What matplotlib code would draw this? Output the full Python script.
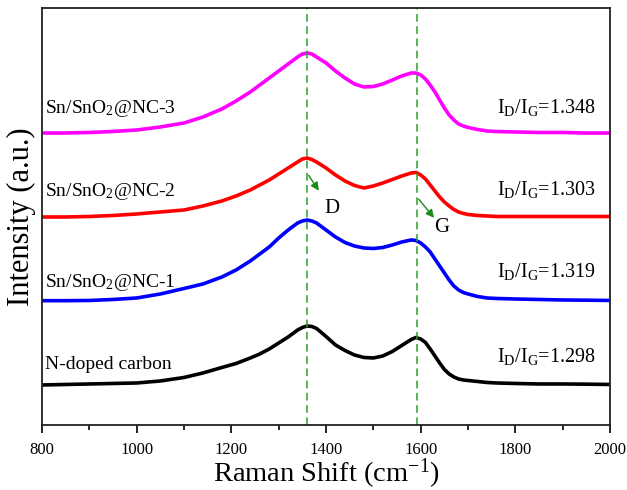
import matplotlib
matplotlib.use("Agg")
import matplotlib.pyplot as plt
from matplotlib.ticker import MultipleLocator

plt.rcParams['font.family'] = ['Liberation Serif', 'DejaVu Serif']
plt.rcParams['mathtext.fontset'] = 'custom'
plt.rcParams['mathtext.rm'] = 'Liberation Serif'
plt.rcParams['mathtext.default'] = 'regular'

# Raman spectra (offset curves, arbitrary units)
shift_cm = [800, 850, 900, 950, 1000, 1050, 1100, 1140, 1180, 1210,
            1240, 1260, 1280, 1300, 1320, 1340, 1350, 1360, 1370, 1380,
            1400, 1420, 1440, 1460, 1480, 1500, 1520, 1540, 1560, 1580,
            1590, 1600, 1610, 1620, 1630, 1640, 1650, 1660, 1670, 1680,
            1690, 1700, 1720, 1740, 1760, 1800, 1850, 1900, 1950, 2000]

nc3 = [292, 292, 292.5, 293.5, 295, 298, 302, 308, 316, 324,
       333, 340, 347, 354, 361, 368, 371, 372, 371, 368,
       362, 354, 347, 341, 338, 338.5, 341, 345, 349, 352,
       352, 350, 346, 340, 333, 325, 317, 310, 305, 301,
       299, 297.5, 295.5, 294, 293.5, 293, 292.5, 292.5, 292, 292]
nc2 = [208, 208, 208.5, 209.5, 211, 213, 215, 219, 224, 229,
       235, 240, 245, 251, 257, 263, 266, 267, 265.5, 263,
       257, 250, 244, 239.5, 237, 239, 242, 245.5, 249, 252,
       252.5, 250, 246, 240, 234, 228, 223, 219, 215.5, 213,
       211.5, 210.5, 209.5, 209, 208.5, 208.5, 208.5, 208.5, 208.5, 208.5]
nc1 = [124.3, 124.3, 124.5, 125.5, 127, 131, 136.5, 141, 148, 155,
       164, 171, 178, 187, 195, 202, 204, 205, 204, 202,
       195, 188, 182.5, 179, 177, 176.5, 177.5, 180, 183, 185,
       184.5, 182, 178, 173, 166, 159, 152, 145, 139, 135,
       132.5, 131, 128.5, 127, 126.5, 126, 125.5, 125, 124.8, 124.5]
carbon = [40, 40.5, 41, 41.5, 42, 44, 47.5, 52, 57.5, 61.5,
          67, 71, 76, 82, 88, 95, 97.5, 99, 98.5, 96.5,
          88.5, 80, 74.5, 70, 67.5, 67, 69, 73.5, 79.5, 85.5,
          87.5, 86, 82.5, 76, 69, 62, 55.5, 51, 48, 46,
          45, 44.5, 43.5, 42.5, 42, 41.5, 41, 41, 40.8, 40.5]

names = ['Sn/SnO$_2$@NC-3', 'Sn/SnO$_2$@NC-2', 'Sn/SnO$_2$@NC-1', 'N-doped carbon']
ratios = ['1.348', '1.303', '1.319', '1.298']
colors = ['#ff00ff', '#ff0000', '#0000ff', '#000000']
curves = [nc3, nc2, nc1, carbon]
name_y = [316, 233, 142, 60]
ratio_y = [317, 235, 153, 68]

D_POS = 1360
G_POS = 1592

fig = plt.figure(figsize=(6.27, 4.90), dpi=100)
ax = fig.add_axes([0.067, 0.1327, 0.906, 0.851])

for y, c in zip(curves, colors):
    ax.plot(shift_cm, y, color=c, lw=2.6, solid_joinstyle='round')

for pos in [D_POS, G_POS]:
    ax.axvline(pos, color='#2aa02a', lw=1.1, ls=(0, (5, 3)))

for name, ratio, ny, ry in zip(names, ratios, name_y, ratio_y):
    ax.text(806, ny, name, fontsize=14, va='center', ha='left')
    ax.text(1970, ry, r'I$_D$/I$_G$=' + ratio, fontsize=14.5, va='center', ha='right')

# peak markers
ax.annotate('', xy=(D_POS + 28, 232), xytext=(D_POS, 252),
            arrowprops=dict(arrowstyle='-|>', color='#1a8c1a', lw=1, mutation_scale=12))
ax.text(D_POS + 52, 216, 'D', fontsize=15, ha='center', va='center')
ax.annotate('', xy=(G_POS + 40, 205), xytext=(G_POS, 228),
            arrowprops=dict(arrowstyle='-|>', color='#1a8c1a', lw=1, mutation_scale=12))
ax.text(G_POS + 52, 197, 'G', fontsize=15, ha='center', va='center')

ax.set_xlim(800, 2000)
ax.set_ylim(0, 417)
ax.set_yticks([])
ax.xaxis.set_major_locator(MultipleLocator(200))
ax.xaxis.set_minor_locator(MultipleLocator(100))
ax.tick_params(axis='x', which='major', length=6, width=1.2, labelsize=12,
               direction='out', pad=6)
ax.tick_params(axis='x', which='minor', length=3.5, width=1.2, direction='out')
for s in ax.spines.values():
    s.set_linewidth(1.3)
    s.set_color('#222222')

ax.set_xlabel('Raman Shift (cm$^{-1}$)', fontsize=20.5, labelpad=-1)
ax.set_ylabel('Intensity (a.u.)', fontsize=22, labelpad=4)

fig.savefig('out.png', dpi=100)
